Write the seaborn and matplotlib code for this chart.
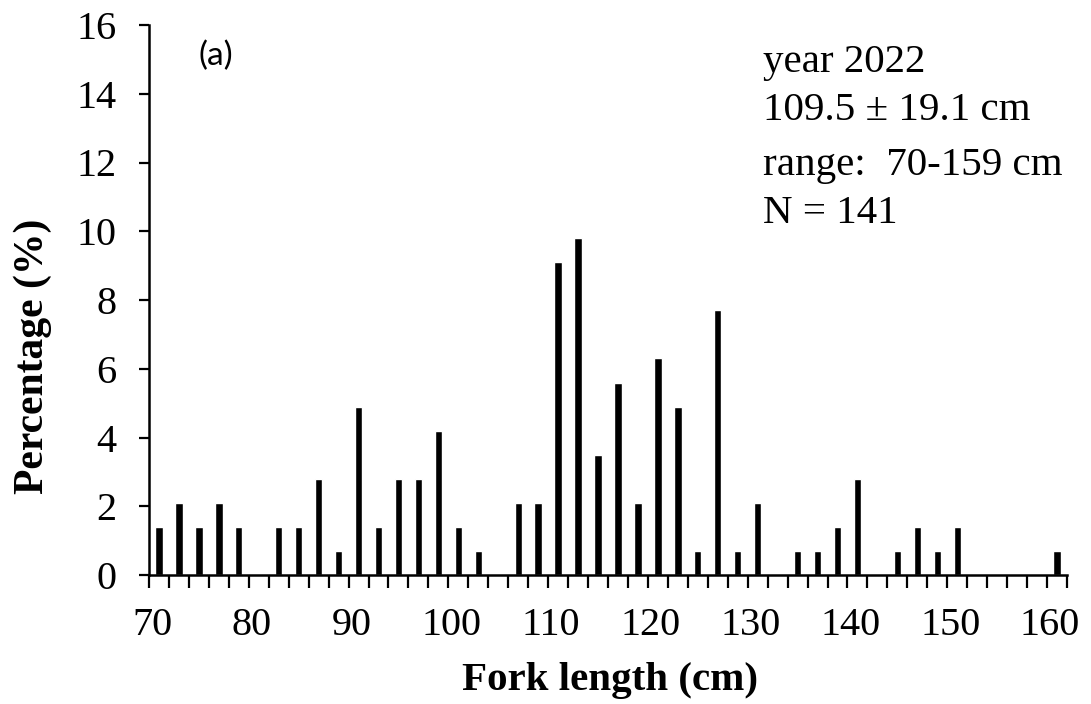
import matplotlib
matplotlib.use("Agg")
import matplotlib.pyplot as plt
import numpy as np
import pandas as pd
import seaborn as sns

# ---- data ----
lengths = list(range(70, 162, 2))  # fork length classes (cm)
percent = [1.4, 2.1, 1.4, 2.1, 1.4, 0.0, 1.4, 1.4, 2.8, 0.7,
           4.9, 1.4, 2.8, 2.8, 4.2, 1.4, 0.7, 0.0, 2.1, 2.1,
           9.1, 9.8, 3.5, 5.6, 2.1, 6.3, 4.9, 0.7, 7.7, 0.7,
           2.1, 0.0, 0.7, 0.7, 1.4, 2.8, 0.0, 0.7, 1.4, 0.7,
           1.4, 0.0, 0.0, 0.0, 0.0, 0.7]
tick_values = [70, 80, 90, 100, 110, 120, 130, 140, 150, 160]
y_ticks = [0, 2, 4, 6, 8, 10, 12, 14, 16]
info_lines = ["year 2022", "109.5 \u00b1 19.1 cm", "range:  70-159 cm", "N = 141"]

sns.set_theme(style="ticks")
plt.rcParams["font.family"] = ["Liberation Serif", "DejaVu Serif"]
plt.rcParams["text.color"] = "black"
plt.rcParams["axes.labelcolor"] = "black"
plt.rcParams["xtick.color"] = "black"
plt.rcParams["ytick.color"] = "black"

W, H = 1091, 704
fig = plt.figure(figsize=(W / 100, H / 100), dpi=100)
ax_l, ax_r, ax_t, ax_b = 149, 1067, 25, 575
ax = fig.add_axes([ax_l / W, 1 - ax_b / H, (ax_r - ax_l) / W, (ax_b - ax_t) / H])

df = pd.DataFrame({"length": [str(v) for v in lengths], "percent": percent})
sns.barplot(data=df, x="length", y="percent", order=list(df["length"]),
            color="black", saturation=1, width=0.37, ax=ax)

n = len(lengths)
ax.set_xlim(-0.5, n - 0.5)
ax.set_ylim(0, 16)
ax.set_yticks(y_ticks)
ax.set_yticklabels([str(v) for v in y_ticks], fontsize=29, color="black")

# boundary tick marks between classes
ax.set_xticks(np.arange(-0.5, n, 1.0), minor=True)
ax.tick_params(axis="x", which="minor", direction="out", length=9.5, width=1.6, color="black")
# labels every 10 cm
pos = [lengths.index(v) - 0.35 for v in tick_values]
ax.set_xticks(pos)
ax.set_xticklabels([str(v) for v in tick_values], fontsize=29, color="black")
ax.tick_params(axis="x", which="major", length=0, pad=23)
ax.tick_params(axis="y", which="major", direction="out", length=7.5, width=1.6, pad=16, color="black")

for s in ["top", "right"]:
    ax.spines[s].set_visible(False)
for s in ["left", "bottom"]:
    ax.spines[s].set_linewidth(1.8)
    ax.spines[s].set_color("black")

ax.set_xlabel("Fork length (cm)", fontsize=29.5, fontweight="bold", color="black")
ax.set_ylabel("Percentage (%)", fontsize=30, fontweight="bold", color="black")
ax.xaxis.label.set_va("center")
ax.yaxis.label.set_va("center")
ax.xaxis.set_label_coords(0.502, -0.191)
ax.yaxis.set_label_coords(-0.127, 0.397)

ax.text((216 - ax_l) / (ax_r - ax_l), (ax_b - 56) / (ax_b - ax_t), "(a)",
        transform=ax.transAxes, fontsize=24, color="black",
        family=["Lato", "DejaVu Sans"], ha="center", va="center")

baselines = [72, 120, 175, 223]
for line, b in zip(info_lines, baselines):
    ax.text((763 - ax_l) / (ax_r - ax_l), (ax_b - b) / (ax_b - ax_t), line,
            transform=ax.transAxes, fontsize=29.5, color="black",
            ha="left", va="baseline")

fig.savefig("out.png", dpi=100)
